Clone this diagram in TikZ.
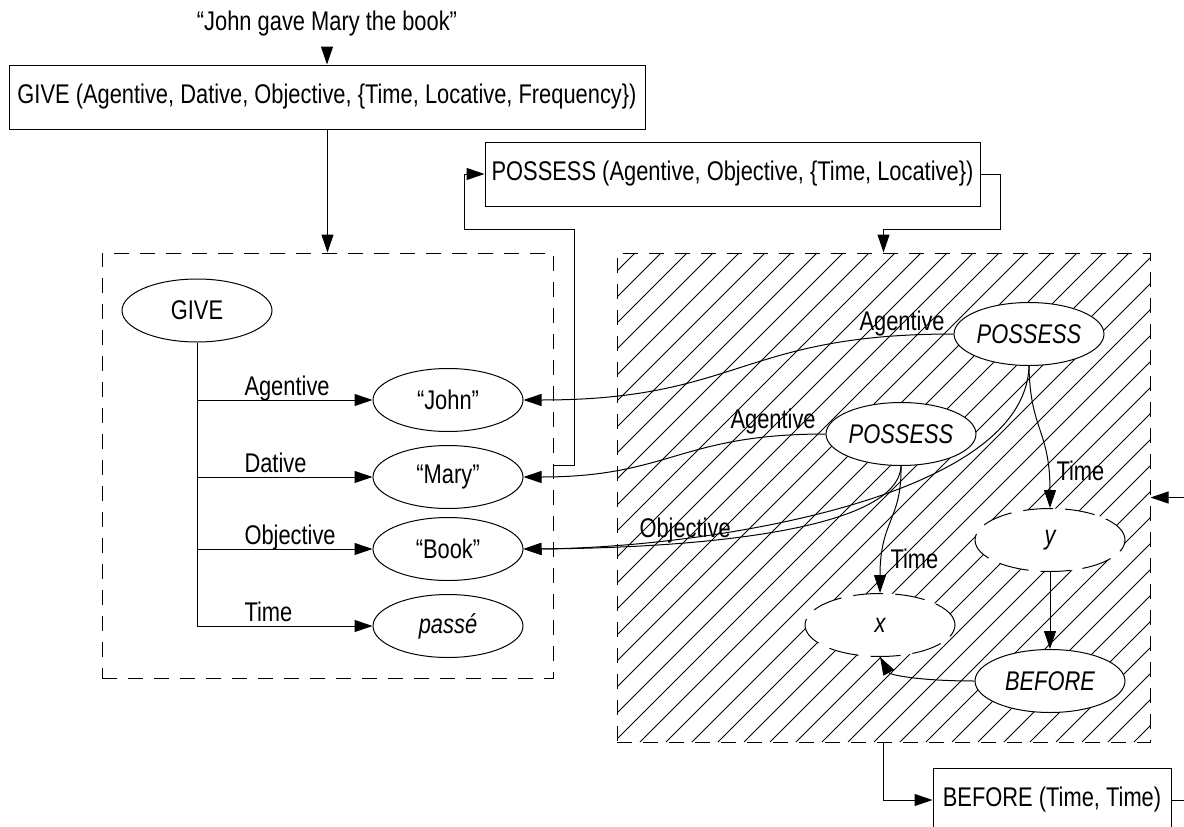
\documentclass[tikz,border=0pt]{standalone}
\usepackage{fontspec}
\setmainfont{Liberation Sans}[FakeStretch=0.81]
\usetikzlibrary{arrows.meta,shapes.geometric,calc}
\begin{document}
\begin{tikzpicture}[x=1pt,y=-1pt, line width=1pt,
  every node/.style={font=\fontsize{27}{30}\selectfont, inner sep=0pt},
  box/.style={draw, rectangle, minimum height=64pt},
  ell/.style={draw, ellipse, minimum width=150pt, minimum height=63pt, fill=white},
  dell/.style={ell, dash pattern=on 30pt off 12pt},
  arr/.style={-{Triangle[length=18pt,width=12pt]}},
  lbl/.style={anchor=base west},
  hatchline/.style={line width=0.8pt},
  dbox/.style={draw, dash pattern=on 15pt off 11pt, rectangle}
]
\useasboundingbox (0,0) rectangle (1184,827);
\clip (0,0) rectangle (1184,827);

% hatching of the right region
\begin{scope}
\clip (617,253) rectangle (1150,742);
\foreach \i in {0,...,41} \draw[hatchline] (120+\i*26,742) -- ++(500,-500);
\end{scope}

\node[dbox, minimum width=533pt, minimum height=489pt] (hatch) at (883.5,497.5) {};
\node[dbox, minimum width=451pt, minimum height=425pt] (gbox) at (327.5,465.5) {};

\node (quote) at (327,24) {“John gave Mary the book”};
\coordinate (q) at (327,47);
\node[box, minimum width=636pt] (givebox) at (327,97) {GIVE (Agentive, Dative, Objective, \{Time, Locative, Frequency\})};
\node[box, minimum width=495pt] (pbox) at (732.5,174) {POSSESS (Agentive, Objective, \{Time, Locative\})};
\node[box, minimum width=238pt] (bbox) at (1052,800) {BEFORE (Time, Time)};

% left graph
\node[ell] (give) at (197,310.5) {GIVE};
\node[ell] (john) at (448,400) {“John”};
\node[ell] (mary) at (448,477) {“Mary”};
\node[ell] (book) at (448,549) {“Book”};
\node[ell] (passe) at (448,626) {\itshape passé};

\draw[arr] (give.south) |- (passe.west);
\draw[arr] (give.south |- john.west) -- (john.west);
\draw[arr] (give.south |- mary.west) -- (mary.west);
\draw[arr] (give.south |- book.west) -- (book.west);

\node[lbl] (lA) at (244,395.5) {Agentive};
\node[lbl] (lD) at (244,472.5) {Dative};
\node[lbl] (lO) at (244,544.5) {Objective};
\node[lbl] (lT) at (244,621.5) {Time};

% right graph
\node[ell] (p1) at (1029,334) {\itshape POSSESS};
\node[ell] (p2) at (901,434) {\itshape POSSESS};
\node[dell] (y) at (1050,540) {\itshape y};
\node[dell] (x) at (880,625) {\itshape x};
\node[ell] (before) at (1050,681) {\itshape BEFORE};

\draw[arr] (p1.west) .. controls (740,334) and (740,400) .. (john.east);
\draw[arr] (p2.west) .. controls (680,434) and (670,477) .. (mary.east);
\draw[arr] (p1.south) .. controls (1025,500) and (700,548) .. (book.east);
\draw[arr] (p2.south) .. controls (898,530) and (700,548) .. (book.east);
\draw[arr] (p1.south) .. controls (1030,430) and (1050,430) .. (y.north);
\draw[arr] (p2.south) .. controls (902,520) and (880,520) .. (x.north);
\draw[arr] (y.south) -- (before.north);
\draw[arr] (before.west) .. controls (920,681) and (890,675) .. (x.south);

\node[lbl] (rA1) at (859,330) {Agentive};
\node[lbl] (rA2) at (730,428) {Agentive};
\node[lbl] (rO) at (639,537) {Objective};
\node[lbl] (rT1) at (1056,480) {Time};
\node[lbl] (rT2) at (890,568) {Time};

% frame connectors
\draw[arr] (q) -- (givebox.north);
\draw[arr] (givebox.south -| gbox.north) -- (gbox.north);
\coordinate (c1) at (1000,229);
\draw[arr] (pbox.east) -| (c1) -| (hatch.north);
\coordinate (c2) at (574,229);
\coordinate (c3) at (464,174);
\draw[arr] (gbox.east) -| (c2) -| (c3) -- (pbox.west);
\draw[arr] (hatch.south) |- (bbox.west);
\coordinate (c4) at (1198,800);
\draw[arr] (bbox.east) -- (c4) |- (hatch.east);
\end{tikzpicture}
\end{document}
